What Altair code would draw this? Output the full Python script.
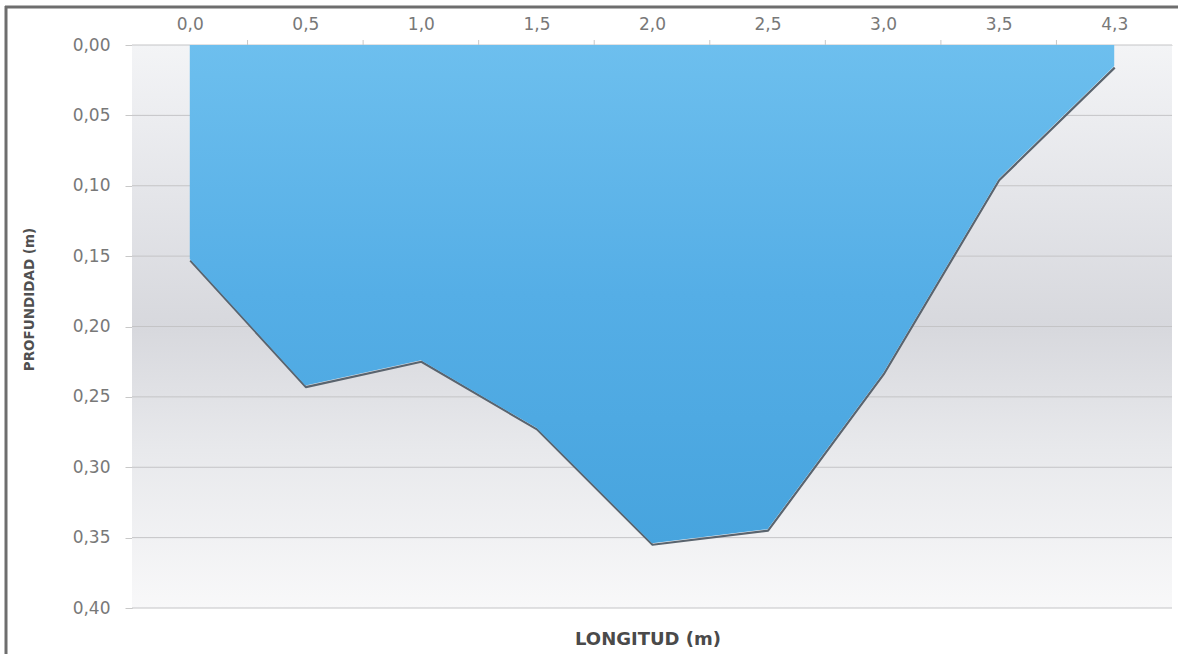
import altair as alt
import pandas as pd

# Cross-section survey: distance along the section and measured depth
longitud = ["0,0", "0,5", "1,0", "1,5", "2,0", "2,5", "3,0", "3,5", "4,3"]
profundidad = [0.152, 0.242, 0.224, 0.272, 0.354, 0.344, 0.233, 0.095, 0.015]
y_ticks = [0.00, 0.05, 0.10, 0.15, 0.20, 0.25, 0.30, 0.35, 0.40]

W, H = 1040, 563
n = len(longitud)

df = pd.DataFrame({"idx": list(range(n)), "cat": longitud, "depth": profundidad})
grid_df = pd.DataFrame({"depth": y_ticks})
bounds_df = pd.DataFrame({"idx": [i + 0.5 for i in range(n - 1)]})
one = alt.Data(values=[{}])

label_lookup = "[" + ",".join("'" + c + "'" for c in longitud) + "][datum.value]"

x_scale = alt.Scale(domain=[-0.5, n - 0.5], nice=False, zero=False)
y_scale = alt.Scale(domain=[0, 0.4], reverse=True, nice=False, zero=False)

x_axis = alt.Axis(
    orient="top", values=list(range(n)), labelExpr=label_lookup,
    ticks=False, tickSize=0, grid=False, domain=True, domainColor="#d4d4d4",
    labelFont="DejaVu Sans", labelFontSize=17, labelColor="#787878",
    labelBaseline="alphabetic", labelPadding=16, title=None,
)
y_axis = alt.Axis(
    values=y_ticks, labelExpr="replace(format(datum.value, '.2f'), '.', ',')",
    grid=False, ticks=True, tickSize=7, tickColor="#c8c8c8",
    domain=True, domainColor="#d0d0d0",
    labelFont="DejaVu Sans", labelFontSize=17, labelColor="#787878",
    labelPadding=15,
    title="PROFUNDIDAD (m)", titleFont="DejaVu Sans", titleFontSize=13.5,
    titleFontWeight="bold", titleColor="#505050", titleAngle=270,
    titleAlign="center", titleBaseline="middle", titleX=-103, titleY=254,
)

# plot-area shading: light at the top, grey through the middle, near white below
shade = alt.Chart(one).mark_rect(
    fill=alt.Gradient(
        gradient="linear", x1=0, x2=0, y1=0, y2=1,
        stops=[
            alt.GradientStop(color="#f3f4f6", offset=0.0),
            alt.GradientStop(color="#e5e6ea", offset=0.25),
            alt.GradientStop(color="#d7d8dd", offset=0.5),
            alt.GradientStop(color="#e8e9ec", offset=0.72),
            alt.GradientStop(color="#f8f8f9", offset=1.0),
        ],
    )
).encode(x=alt.value(0), x2=alt.value("width"), y=alt.value(0), y2=alt.value("height"))

gridlines = alt.Chart(grid_df).mark_rule(color="#c4c4c6", strokeWidth=1).encode(
    y=alt.Y("depth:Q", scale=y_scale, axis=y_axis),
    x=alt.value(0), x2=alt.value("width"),
)

cat_ticks = alt.Chart(bounds_df).mark_rule(color="#c8c8c8", strokeWidth=1).encode(
    x=alt.X("idx:Q", scale=x_scale, axis=x_axis),
    y=alt.value(-5), y2=alt.value(0),
)

shadow = alt.Chart(df).mark_line(
    color="#5a646e", strokeWidth=2.2, xOffset=0.5, yOffset=1.5, strokeJoin="round"
).encode(
    x=alt.X("idx:Q", scale=x_scale, axis=x_axis),
    y=alt.Y("depth:Q", scale=y_scale, axis=y_axis),
)

area = alt.Chart(df).mark_area(
    line=False,
    color=alt.Gradient(
        gradient="linear", x1=0, x2=0, y1=0, y2=1,
        stops=[
            alt.GradientStop(color="#6dbfee", offset=0.0),
            alt.GradientStop(color="#55aee6", offset=0.5),
            alt.GradientStop(color="#47a4de", offset=1.0),
        ],
    ),
    opacity=1,
).encode(
    x=alt.X("idx:Q", scale=x_scale, axis=x_axis),
    y=alt.Y("depth:Q", scale=y_scale, axis=y_axis),
)

# horizontal axis title, below the plot (the axis itself sits on top)
x_title = alt.Chart(one).mark_text(
    text="LONGITUD (m)", font="DejaVu Sans", fontSize=18, fontWeight="bold",
    color="#4a4a4a", align="center", baseline="middle",
).encode(x=alt.value(W / 2 - 4), y=alt.value(H + 32))

# outer frame of the figure
frame_top = alt.Chart(one).mark_rule(color="#6e6e6e", strokeWidth=3).encode(
    x=alt.value(-127), x2=alt.value(W + 10), y=alt.value(-38)
)
frame_left = alt.Chart(one).mark_rule(color="#6e6e6e", strokeWidth=3).encode(
    x=alt.value(-126), y=alt.value(-39), y2=alt.value(H + 50)
)

chart = alt.layer(
    shade, gridlines, cat_ticks, shadow, area, x_title, frame_top, frame_left
).properties(
    width=W, height=H,
    autosize=alt.AutoSizeParams(type="none"),
    padding={"left": 132, "top": 45, "right": 6, "bottom": 46},
    background="white",
).configure_view(stroke=None)

chart.save("out.html", embed_options={"renderer": "svg", "actions": False})
